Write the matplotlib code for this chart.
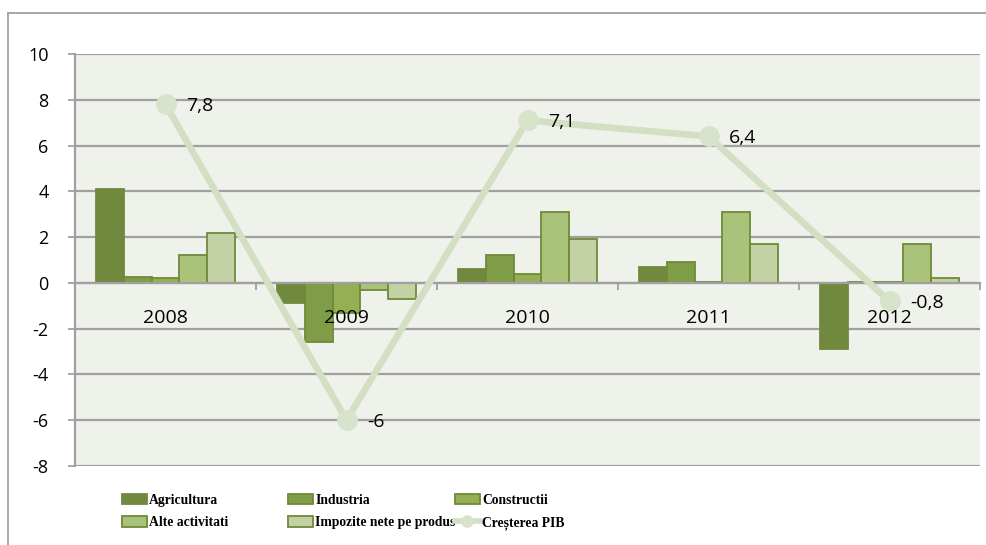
import matplotlib
matplotlib.use("Agg")
import matplotlib.pyplot as plt
from matplotlib.lines import Line2D
from matplotlib.patches import Patch
import numpy as np

years = ["2008", "2009", "2010", "2011", "2012"]
agricultura = [4.1, -0.9, 0.6, 0.7, -2.9]
industria = [0.25, -2.6, 1.2, 0.9, 0.05]
constructii = [0.2, -1.3, 0.4, 0.05, 0.05]
alte_activitati = [1.2, -0.3, 3.1, 3.1, 1.7]
impozite = [2.2, -0.7, 1.9, 1.7, 0.2]
crestere_pib = [7.8, -6, 7.1, 6.4, -0.8]

series_names = ["Agricultura", "Industria", "Constructii", "Alte activitati",
                "Impozite nete pe produs"]
series_vals = [agricultura, industria, constructii, alte_activitati, impozite]
line_name = "Creșterea PIB"
yticks = [-8, -6, -4, -2, 0, 2, 4, 6, 8, 10]

face_colors = ["#71893f", "#7f9c47", "#94b053", "#a9c37a", "#c2d2a4"]
edge_colors = ["#71893f", "#6e8a3a", "#6e8a3a", "#6e8a3a", "#6e8a3a"]
line_color = "#d2dfc3"
marker_color = "#d8e3cc"
grid_color = "#a0a0a0"
bg_color = "#eff2ea"

fig = plt.figure(figsize=(9.86, 5.45), dpi=100)
ax = fig.add_axes([75 / 986, 1 - 466 / 545, (980 - 75) / 986, (466 - 54) / 545])
ax.set_facecolor(bg_color)

x = np.arange(len(years))
w = 0.154
for j, (name, vals) in enumerate(zip(series_names, series_vals)):
    ax.bar(x + (j - 2) * w, vals, width=w, color=face_colors[j],
           edgecolor=edge_colors[j], linewidth=1.3, zorder=3, label=name)

ax.plot(x, crestere_pib, color=line_color, linewidth=4.8, marker="o",
        markersize=14, markerfacecolor=marker_color, markeredgecolor=marker_color,
        zorder=5, solid_capstyle="round")
for xi, v in zip(x, crestere_pib):
    ax.annotate(f"{v:g}".replace(".", ","), (xi, v), xytext=(15, -1.5),
                textcoords="offset points", va="center", ha="left",
                fontsize=14, family="Open Sans", color="black", zorder=8)

ax.set_xlim(-0.5, len(years) - 0.5)
ax.set_ylim(-8, 10)
ax.set_yticks(yticks)
ax.set_yticklabels([str(t) for t in yticks], family="Open Sans", fontsize=13)
ax.yaxis.grid(True, color=grid_color, linewidth=1.6, zorder=0)
ax.set_axisbelow(True)

for s in ["top", "right"]:
    ax.spines[s].set_visible(False)
ax.spines["left"].set_color(grid_color)
ax.spines["left"].set_linewidth(1.6)
ax.spines["bottom"].set_position(("data", 0))
ax.spines["bottom"].set_color(grid_color)
ax.spines["bottom"].set_linewidth(1.6)
ax.spines["bottom"].set_zorder(4)

ax.tick_params(axis="y", length=5, width=1.3, color=grid_color, pad=14)
ax.set_xticks(x)
ax.set_xticklabels([""] * len(years))
ax.tick_params(axis="x", which="major", length=0)
ax.set_xticks(np.arange(-0.5, len(years)), minor=True)
ax.tick_params(axis="x", which="minor", length=5, width=1.3, color=grid_color,
               direction="out")

# category labels drawn above bars and line
for xi, yr in zip(x, years):
    ax.text(xi, -1.53, yr, ha="center", va="center", fontsize=14,
            family="Open Sans", color="black", zorder=7)

# outer chart frame
fig.add_artist(Line2D([7.5 / 986, 1.0], [1 - 13 / 545, 1 - 13 / 545],
                      color=grid_color, linewidth=1.3))
fig.add_artist(Line2D([7.5 / 986, 7.5 / 986], [0.0, 1 - 13 / 545],
                      color=grid_color, linewidth=1.3))

# legend (three columns)
bar_handles = [Patch(facecolor=face_colors[j], edgecolor=edge_colors[j], linewidth=1.3)
               for j in range(5)]
line_handle = Line2D([], [], color=line_color, linewidth=4, marker="o", markersize=8,
                     markerfacecolor=marker_color, markeredgecolor=marker_color)
handles = bar_handles + [line_handle]
labels = series_names + [line_name]
cols = [[0, 3], [1, 4], [2, 5]]
col_x = [122, 288, 455]
for cx, idx in zip(col_x, cols):
    fig.legend([handles[i] for i in idx], [labels[i] for i in idx],
               loc="upper left", bbox_to_anchor=(cx / 986, 1 - 494 / 545),
               frameon=False, borderpad=0, borderaxespad=0, handlelength=1.8,
               handleheight=0.8, handletextpad=0.2, labelspacing=0.68,
               prop={"family": "Liberation Serif", "weight": "bold", "size": 9.8})

fig.savefig("out.png", dpi=100, facecolor="white")
